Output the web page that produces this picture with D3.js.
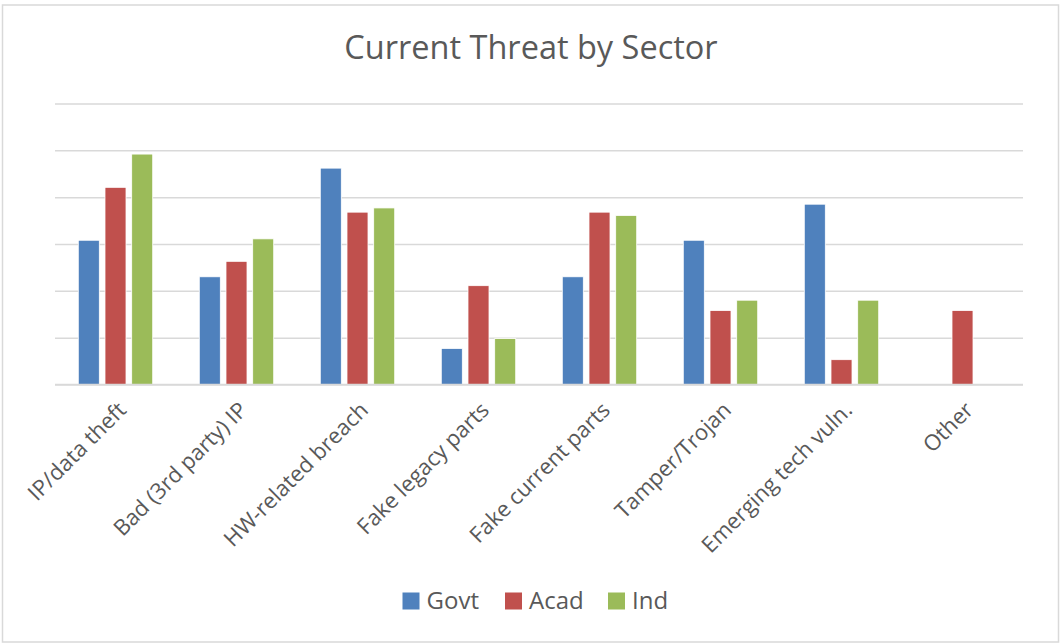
<!DOCTYPE html>
<html>
<head>
<meta charset="utf-8">
<script src="https://cdn.jsdelivr.net/npm/d3@7"></script>
<style>
  html, body { margin: 0; padding: 0; background: #fff; }
  svg { display: block; }
  text { font-family: "Open Sans", "Liberation Sans", sans-serif; fill: #595959; }
</style>
</head>
<body>
<svg id="chart" width="1061" height="643"></svg>
<script>
const title = "Current Threat by Sector";
const categories = ["IP/data theft", "Bad (3rd party) IP", "HW-related breach", "Fake legacy parts",
                    "Fake current parts", "Tamper/Trojan", "Emerging tech vuln.", "Other"];
const seriesNames = ["Govt", "Acad", "Ind"];
const govt = [30.8, 23.0, 46.2, 7.7, 23.0, 30.8, 38.5, 0];
const acad = [42.1, 26.3, 36.8, 21.1, 36.8, 15.8, 5.3, 15.8];
const ind  = [49.2, 31.1, 37.7, 9.8, 36.1, 18.0, 18.0, 0];
const seriesValues = [govt, acad, ind];
const colors = ["#4F81BD", "#C0504D", "#9BBB59"];
const yTicks = [0, 10, 20, 30, 40, 50, 60];

const svg = d3.select("#chart");

// chart border
svg.append("rect").attr("x", 2.5).attr("y", 5).attr("width", 1056).attr("height", 637)
  .attr("fill", "#fff").attr("stroke", "#D9D9D9").attr("stroke-width", 1.5);

// title
svg.append("text").attr("x", 531).attr("y", 59).attr("text-anchor", "middle")
  .style("font-size", "32.5px").text(title);

const plot = { left: 55, right: 1023, top: 103.5, bottom: 384.5 };

const x0 = d3.scaleBand().domain(categories).range([plot.left, plot.right]).paddingInner(0).paddingOuter(0);
const x1 = d3.scaleBand().domain(seriesNames).range([0, x0.bandwidth()]).paddingInner(0.213).paddingOuter(0.872);
const y = d3.scaleLinear().domain([0, 60]).range([plot.bottom, plot.top]);

// gridlines
const yAxis = d3.axisLeft(y).tickValues(yTicks).tickSize(-(plot.right - plot.left)).tickFormat("");
const ga = svg.append("g").attr("transform", `translate(${plot.left},0)`).call(yAxis);
ga.select(".domain").remove();
ga.selectAll(".tick line").attr("stroke", "#D9D9D9").attr("stroke-width", 1.5);

// bars
const groups = svg.append("g").selectAll("g").data(categories).join("g")
  .attr("transform", d => `translate(${x0(d)},0)`);
groups.selectAll("rect")
  .data((c, i) => seriesNames.map((s, j) => ({ s, j, v: seriesValues[j][i] })))
  .join("rect")
  .filter(d => d.v > 0)
  .attr("x", d => x1(d.s))
  .attr("width", x1.bandwidth())
  .attr("y", d => y(d.v))
  .attr("height", d => y(0) - y(d.v))
  .attr("fill", d => colors[d.j])
  .attr("stroke", "#fff").attr("stroke-width", 0.8);

// baseline
svg.append("line").attr("x1", plot.left).attr("x2", plot.right)
  .attr("y1", y(0)).attr("y2", y(0)).attr("stroke", "#D9D9D9").attr("stroke-width", 1.5);

// x axis labels
const xAxis = d3.axisBottom(x0).tickSize(0).tickPadding(0);
const gx = svg.append("g").attr("transform", `translate(0,${plot.bottom})`).call(xAxis);
gx.select(".domain").remove();
gx.selectAll(".tick text")
  .attr("text-anchor", "end")
  .attr("dy", 0).attr("y", 0).attr("x", 0)
  .attr("transform", "translate(12,27) rotate(-45)")
  .style("font-size", "22px").attr("fill", "#595959")
  .style("font-family", "'Open Sans', sans-serif");

// legend
const legendX = [402.5, 505, 608];
const lg = svg.append("g");
seriesNames.forEach((s, i) => {
  lg.append("rect").attr("x", legendX[i]).attr("y", 592.5).attr("width", 17).attr("height", 17).attr("fill", colors[i]);
  lg.append("text").attr("x", legendX[i] + 24).attr("y", 609).style("font-size", "24px").text(s);
});
</script>
</body>
</html>
